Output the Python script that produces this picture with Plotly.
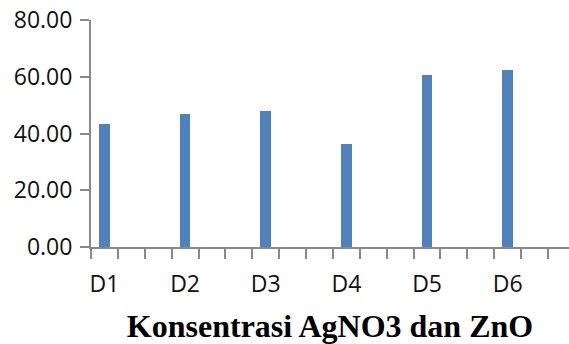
import plotly.graph_objects as go

# Sample labels and measured values
categories = ["D1", "D2", "D3", "D4", "D5", "D6"]
values = [43.35, 46.77, 47.93, 36.19, 60.50, 62.27]
y_ticks = [0, 20, 40, 60, 80]
y_tick_labels = ["0.00", "20.00", "40.00", "60.00", "80.00"]

# Each label occupies every third slot along the category axis
slot_step = 3
x_pos = [i * slot_step for i in range(len(categories))]
n_slots = len(categories) * slot_step
boundaries = [k - 0.5 for k in range(n_slots + 1)]

axis_grey = "#898989"
tick_font = dict(family="Open Sans", size=23, color="#111111")

fig = go.Figure(
    go.Bar(
        x=x_pos,
        y=values,
        width=0.4,
        marker=dict(color="#4F81BD", line=dict(width=0)),
        showlegend=False,
    )
)

fig.update_layout(
    width=569,
    height=344,
    margin=dict(l=91, r=0, t=20, b=97),
    paper_bgcolor="white",
    plot_bgcolor="white",
    bargap=0,
)

fig.update_xaxes(
    range=[-0.5, 17.28],
    tickmode="array",
    tickvals=x_pos,
    ticktext=categories,
    ticks="outside",
    ticklen=15,
    tickcolor="rgba(0,0,0,0)",
    tickfont=tick_font,
    showline=True,
    linecolor=axis_grey,
    linewidth=2,
    showgrid=False,
    zeroline=False,
    minor=dict(
        tickmode="array",
        tickvals=boundaries,
        ticks="outside",
        ticklen=10,
        tickwidth=2,
        tickcolor=axis_grey,
        showgrid=False,
    ),
    title=dict(
        text="<b>Konsentrasi AgNO3 dan ZnO</b>",
        font=dict(family="Liberation Serif", size=32, color="black"),
        standoff=17,
    ),
)

fig.update_yaxes(
    range=[0, 80],
    tickmode="array",
    tickvals=y_ticks,
    ticktext=y_tick_labels,
    ticks="outside",
    ticklen=9,
    tickwidth=2,
    tickcolor=axis_grey,
    tickfont=tick_font,
    ticklabelstandoff=3,
    showline=True,
    linecolor=axis_grey,
    linewidth=2,
    showgrid=False,
    zeroline=False,
)

fig.write_html("out.html")
